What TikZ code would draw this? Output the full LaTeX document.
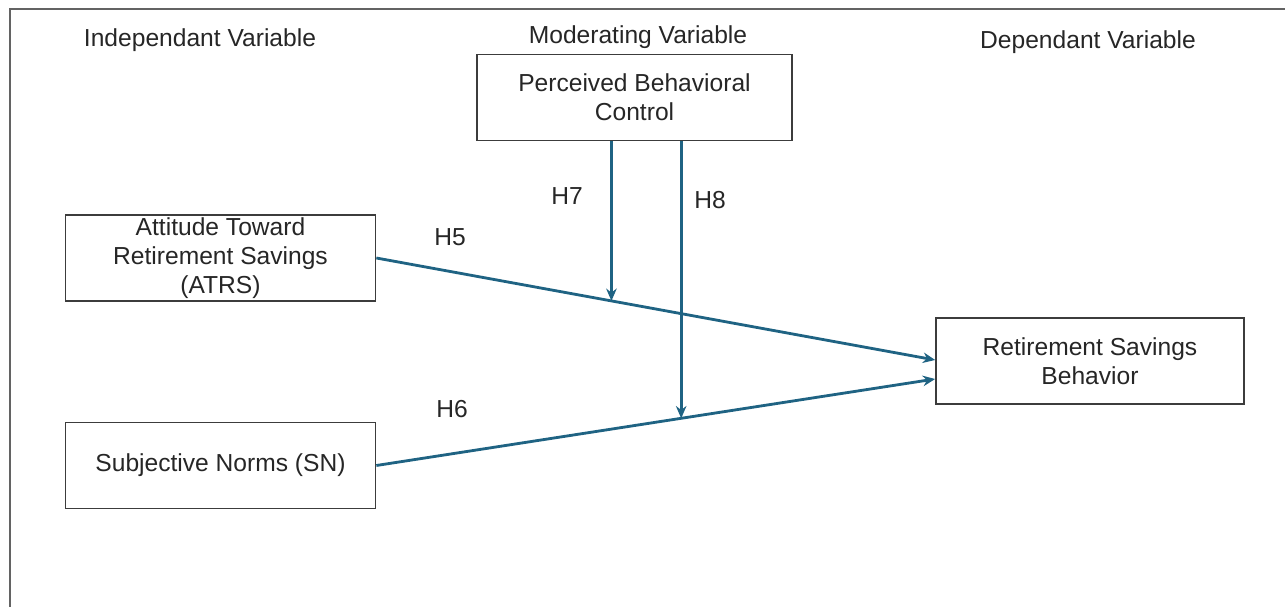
\documentclass[tikz,border=0pt]{standalone}
\usepackage{fontspec}
\setmainfont{Liberation Sans}
\usetikzlibrary{calc,arrows.meta}
\definecolor{linkblue}{RGB}{31,99,131}
\definecolor{boxgray}{RGB}{60,60,60}

\begin{document}
\begin{tikzpicture}[x=0.02cm,y=-0.02cm,
    every node/.style={font=\fontsize{14}{16.5}\selectfont, text=black!85},
    varbox/.style={draw=boxgray, line width=1pt, minimum width=6.2cm, minimum height=1.72cm, align=center, inner sep=0pt},
    link/.style={draw=linkblue, line width=1.6pt, -{Stealth[length=7pt,width=6pt]}}]
    \useasboundingbox (0,0) rectangle (1285,607);
    \draw[boxgray!80, line width=1.2pt] (10,607) -- (10,9) -- (1285,9);

    \node (indep) at (200,40) {Independant Variable};
    \node (moder) at (638,37) {Moderating Variable};
    \node (depen) at (1088,42) {Dependant Variable};

    \node[varbox, minimum width=6.3cm] (pbc)  at (634.5,97.5) {Perceived Behavioral\\Control};
    \node[varbox]                      (atrs) at (220.5,258)  {Attitude Toward\\Retirement Savings\\(ATRS)};
    \node[varbox]                      (sn)   at (220.5,465.5) {Subjective Norms (SN)};
    \node[varbox, minimum width=6.16cm] (rsb) at (1090,361)   {Retirement Savings\\Behavior};

    \coordinate (in5) at ($(rsb.west)+(0,-1)$);
    \coordinate (in6) at ($(rsb.west)+(0,18)$);
    \coordinate (m7) at ($(atrs.east)!0.4207!(in5)$);
    \coordinate (m8) at ($(sn.east)!0.5455!(in6)$);

    \draw[link] (atrs.east) -- (in5);
    \draw[link] (sn.east) -- (in6);
    \draw[link] (pbc.south -| m7) -- (m7);
    \draw[link] (pbc.south -| m8) -- (m8);

    \node (h5) at (450,237) {H5};
    \node (h6) at (452,409) {H6};
    \node (h7) at (567,196) {H7};
    \node (h8) at (710,200) {H8};
\end{tikzpicture}
\end{document}
